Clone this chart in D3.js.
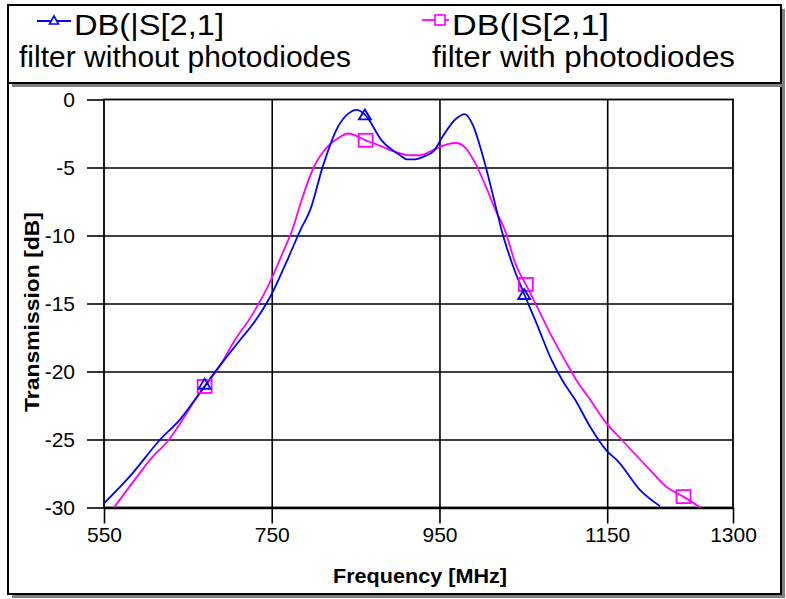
<!DOCTYPE html>
<html><head><meta charset="utf-8">
<script src="https://cdn.jsdelivr.net/npm/d3@7"></script>
<style>body{margin:0;background:#fff}svg{display:block}</style>
</head><body>
<svg id="c" width="786" height="599"></svg>
<script>
// ---- data ----
const freqBlue = [550, 581, 617, 641, 664, 684, 712, 730, 750, 770, 785, 796, 811, 829, 842, 851, 861, 881, 903, 911, 921, 931, 943, 954, 970, 980, 990, 1001, 1018, 1024, 1038, 1051, 1066, 1084, 1097, 1112, 1130, 1149, 1163, 1189, 1213];
const dbBlue   = [-29.7, -27.7, -25.0, -23.5, -21.6, -19.9, -17.7, -16.3, -14.3, -11.6, -9.5, -8.1, -4.9, -2.0, -1.0, -0.77, -1.1, -3.0, -4.1, -4.4, -4.4, -4.2, -3.8, -2.7, -1.4, -1.07, -1.9, -4.0, -8.1, -9.6, -12.3, -14.3, -16.5, -19.2, -20.7, -22.1, -24.1, -25.8, -26.6, -28.7, -29.9];
const freqMag  = [562, 585, 609, 625, 641, 664, 670, 688, 706, 725, 745, 765, 775, 784, 800, 816, 829, 841, 862, 875, 895, 915, 927, 943, 959, 970, 980, 992, 1004, 1016, 1028, 1042, 1053, 1066, 1082, 1098, 1113, 1130, 1149, 1167, 1199, 1221, 1241, 1261];
const dbMag    = [-30, -28.1, -26.2, -25.2, -23.8, -21.6, -21.1, -19.6, -17.7, -16.0, -13.8, -11.0, -9.5, -7.7, -5.0, -3.5, -2.85, -2.5, -3.0, -3.3, -3.8, -4.1, -4.1, -3.7, -3.3, -3.2, -3.5, -4.6, -6.2, -8.0, -9.6, -12.3, -13.6, -15.2, -17.2, -19.0, -20.6, -22.1, -23.8, -25.0, -27.1, -28.5, -29.2, -30];
const markFreqBlue = [670, 861, 1051];
const markDbBlue   = [-20.9, -1.1, -14.3];
const markFreqMag  = [670, 862, 1053, 1241];
const markDbMag    = [-21.1, -3.0, -13.6, -29.2];
const xTicks = [550, 750, 950, 1150, 1300];
const yTicks = [0, -5, -10, -15, -20, -25, -30];
const legendTitle = "DB(|S[2,1]";
const legendBlue = "filter without photodiodes";
const legendMag = "filter with photodiodes";
const xLabel = "Frequency [MHz]";
const yLabel = "Transmission [dB]";

const BLUE = "#0000ff", MAG = "#ff00ff";
const svg = d3.select("#c");
const FONT = "'Liberation Sans', Arial, sans-serif";

// frames with shadows
function framedBox(x, y, w, h) {
  svg.append("rect").attr("x", x + 4).attr("y", y + 4).attr("width", w).attr("height", h).attr("fill", "#808080");
  svg.append("rect").attr("x", x).attr("y", y).attr("width", w).attr("height", h)
    .attr("fill", "#fff").attr("stroke", "#000").attr("stroke-width", 2);
}
framedBox(8, 6, 773, 588);
framedBox(8, 5, 773, 78);

const x = d3.scaleLinear().domain([550, 1300]).range([104, 733]);
const y = d3.scaleLinear().domain([-30, 0]).range([507.5, 99.5]);

// grid
const g = svg.append("g");
g.append("g").attr("transform", `translate(0,${y(-30)})`)
  .call(d3.axisBottom(x).tickValues(xTicks.slice(1, -1)).tickSize(-(y(-30) - y(0))).tickFormat(""))
  .call(s => s.select(".domain").remove())
  .selectAll("line").attr("stroke", "#000").attr("stroke-width", 1.6);
g.append("g").attr("transform", `translate(${x(550)},0)`)
  .call(d3.axisLeft(y).tickValues(yTicks.slice(1, -1)).tickSize(-(x(1300) - x(550))).tickFormat(""))
  .call(s => s.select(".domain").remove())
  .selectAll("line").attr("stroke", "#000").attr("stroke-width", 1.6);

// plot border
svg.append("rect").attr("x", x(550)).attr("y", y(0)).attr("width", x(1300) - x(550)).attr("height", y(-30) - y(0))
  .attr("fill", "none").attr("stroke", "#000").attr("stroke-width", 1.8);
svg.append("line").attr("x1", x(550)).attr("x2", x(1300)).attr("y1", y(-30) + 1).attr("y2", y(-30) + 1)
  .attr("stroke", "#000").attr("stroke-width", 1.5);

// axes
const fmt = d => String(d);
const ax = svg.append("g").attr("transform", `translate(0,${y(-30)})`)
  .call(d3.axisBottom(x).tickValues(xTicks).tickSize(16).tickPadding(4).tickFormat(fmt));
ax.select(".domain").remove();
ax.selectAll("line").attr("stroke", "#000").attr("stroke-width", 1.6);
ax.selectAll("text").attr("font-family", FONT).attr("font-size", 21).attr("fill", "#000");

const ay = svg.append("g").attr("transform", `translate(${x(550)},0)`)
  .call(d3.axisLeft(y).tickValues(yTicks).tickSize(17).tickPadding(12).tickFormat(fmt));
ay.select(".domain").remove();
ay.selectAll("line").attr("stroke", "#000").attr("stroke-width", 1.6);
ay.selectAll("text").attr("font-family", FONT).attr("font-size", 21).attr("fill", "#000");

svg.append("text").attr("x", 420).attr("y", 583).attr("text-anchor", "middle")
  .attr("font-family", FONT).attr("font-weight", "bold").attr("font-size", 21)
  .attr("textLength", 174).attr("lengthAdjust", "spacingAndGlyphs").text(xLabel);
svg.append("text").attr("transform", "translate(39,312) rotate(-90)").attr("text-anchor", "middle")
  .attr("font-family", FONT).attr("font-weight", "bold").attr("font-size", 21)
  .attr("textLength", 200).attr("lengthAdjust", "spacingAndGlyphs").text(yLabel);

// lines
const line = d3.line().x(d => x(d[0])).y(d => y(d[1])).curve(d3.curveMonotoneX);
const blueData = freqBlue.map((f, i) => [f, dbBlue[i]]);
const magData = freqMag.map((f, i) => [f, dbMag[i]]);
svg.append("path").datum(magData).attr("d", line).attr("fill", "none").attr("stroke", MAG).attr("stroke-width", 1.8);
svg.append("path").datum(blueData).attr("d", line).attr("fill", "none").attr("stroke", BLUE).attr("stroke-width", 1.8);

function tri(cx, cy, w, h) {
  return `M${cx},${cy - h / 2}L${cx + w / 2},${cy + h / 2}L${cx - w / 2},${cy + h / 2}Z`;
}
markFreqMag.forEach((f, i) => {
  svg.append("rect").attr("x", x(f) - 7).attr("y", y(markDbMag[i]) - 6.5).attr("width", 14).attr("height", 13)
    .attr("fill", "none").attr("stroke", MAG).attr("stroke-width", 1.8);
});
markFreqBlue.forEach((f, i) => {
  svg.append("path").attr("d", tri(x(f), y(markDbBlue[i]), 12, 10))
    .attr("fill", "none").attr("stroke", BLUE).attr("stroke-width", 1.8);
});

// legend
const lg = svg.append("g");
lg.append("line").attr("x1", 37).attr("x2", 71).attr("y1", 21).attr("y2", 21).attr("stroke", BLUE).attr("stroke-width", 1.8);
lg.append("path").attr("d", tri(54, 20, 9, 8)).attr("fill", "#fff").attr("stroke", BLUE).attr("stroke-width", 1.6);
lg.append("text").attr("x", 74).attr("y", 35).attr("font-family", FONT).attr("font-size", 30)
  .attr("textLength", 150).attr("lengthAdjust", "spacingAndGlyphs").text(legendTitle);
lg.append("text").attr("x", 19).attr("y", 67).attr("font-family", FONT).attr("font-size", 30)
  .attr("textLength", 332).attr("lengthAdjust", "spacingAndGlyphs").text(legendBlue);

lg.append("line").attr("x1", 422).attr("x2", 449).attr("y1", 20).attr("y2", 20).attr("stroke", MAG).attr("stroke-width", 1.8);
lg.append("rect").attr("x", 435).attr("y", 15).attr("width", 10).attr("height", 10).attr("fill", "#fff").attr("stroke", MAG).attr("stroke-width", 1.6);
lg.append("text").attr("x", 452).attr("y", 35).attr("font-family", FONT).attr("font-size", 30)
  .attr("textLength", 157).attr("lengthAdjust", "spacingAndGlyphs").text(legendTitle);
lg.append("text").attr("x", 432).attr("y", 67).attr("font-family", FONT).attr("font-size", 30)
  .attr("textLength", 303).attr("lengthAdjust", "spacingAndGlyphs").text(legendMag);
</script>
</body></html>
